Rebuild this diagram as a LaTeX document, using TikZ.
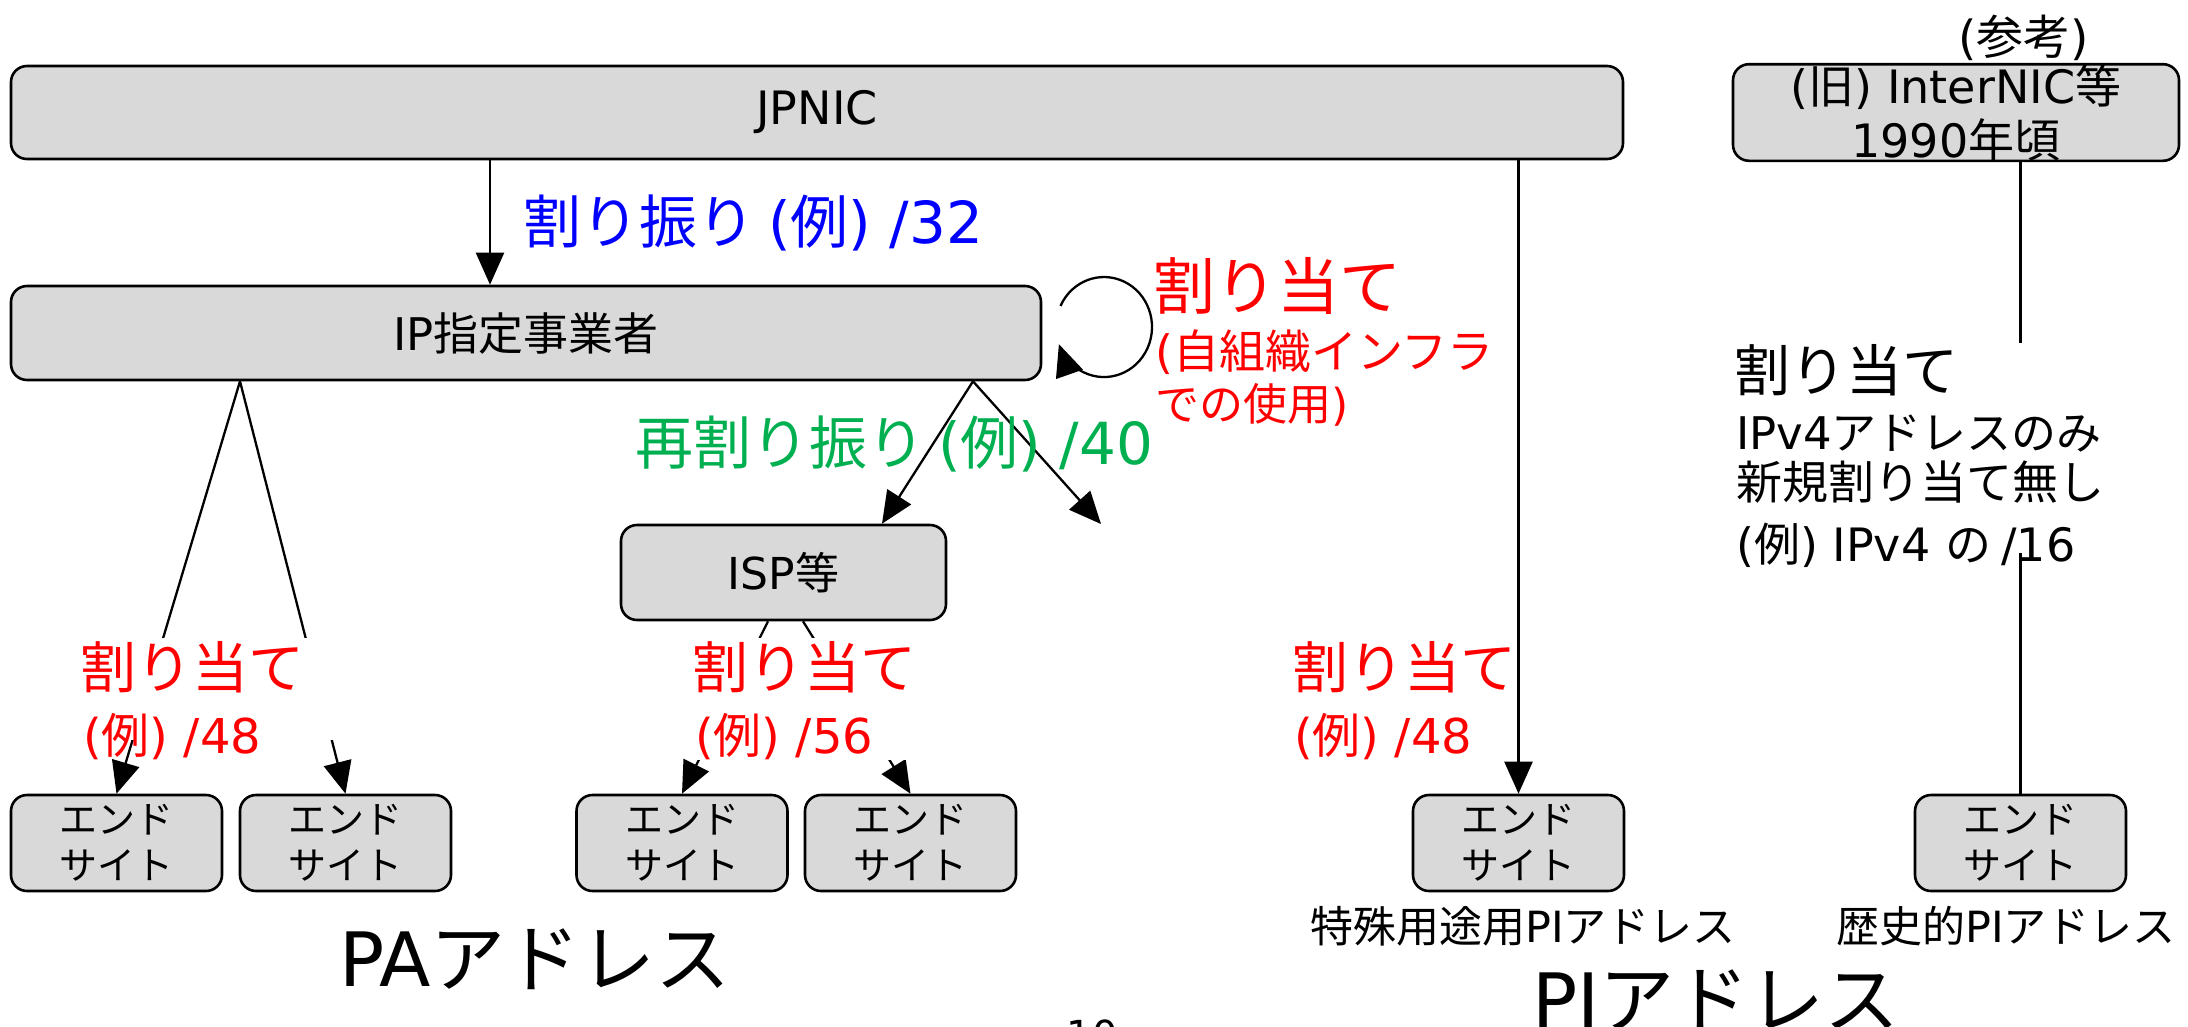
\documentclass[tikz,border=0pt]{standalone}
\usepackage{fontspec}
\setmainfont{Noto Sans CJK JP}
\newfontfamily\latinfont{DejaVu Sans}
\usetikzlibrary{arrows.meta}
\XeTeXinterchartokenstate=1
\newXeTeXintercharclass\cjkclass
\newcount\cjkc
\def\setcjkrange#1#2{\cjkc=#1\relax\loop\XeTeXcharclass\cjkc=\cjkclass\relax\advance\cjkc by 1\relax\ifnum\cjkc<#2\relax\repeat}
\setcjkrange{"3000}{"3100}
\setcjkrange{"4E00}{"A000}
\setcjkrange{"FF00}{"FFF0}
\XeTeXinterchartoks 0 \cjkclass = {\normalfont}
\XeTeXinterchartoks 4095 \cjkclass = {\normalfont}
\XeTeXinterchartoks \cjkclass 0 = {\latinfont}
\XeTeXinterchartoks 4095 0 = {\latinfont}
\definecolor{boxgray}{HTML}{D9D9D9}
\definecolor{jred}{HTML}{FF0000}
\definecolor{jblue}{HTML}{0000FF}
\definecolor{jgreen}{HTML}{00B050}
\tikzset{
  box/.style={draw=black, line width=2.6pt, fill=boxgray, rounded corners=16pt, inner sep=0pt, align=center},
  es/.style={box, minimum width=211pt, minimum height=96pt, font=\fontsize{38}{46}\selectfont},
  conn/.style={line width=2.3pt, draw=black},
  arr/.style={conn, -{Triangle[length=32pt,width=28pt]}},
  txt/.style={inner sep=0pt, anchor=base west},
  fs/.style={font=\fontsize{#1}{#1}\selectfont},
  maskbox/.style={txt, fill=white, align=left},
}
\begin{document}
\begin{tikzpicture}[x=1pt,y=-1pt]
\useasboundingbox (0,0) rectangle (2188,1026);
% boxes
\node[box, minimum width=1612pt, minimum height=93pt, fs=46] (jp) at (817,112.5) {JPNIC};
\node[box, minimum width=1030pt, minimum height=94pt, fs=45] (ip) at (526,333) {IP指定事業者};
\node[box, minimum width=325pt, minimum height=95pt, fs=44] (isp) at (783.5,572.5) {ISP等};
\node[box, minimum width=446pt, minimum height=93pt, font=\fontsize{46}{54}\selectfont] (inic) at (1956,112.5) {(旧) InterNIC等\\1990年頃};
\node[es] (es1) at (116.5,843) {エンド\\サイト};
\node[es] (es2) at (345.5,843) {エンド\\サイト};
\node[es] (es3) at (682,843) {エンド\\サイト};
\node[es] (es4) at (910.5,843) {エンド\\サイト};
\node[es] (es5) at (1518.5,843) {エンド\\サイト};
\node[es] (es6) at (2020.5,843) {エンド\\サイト};
% helper coordinates
\coordinate (hA) at (490,0);
\coordinate (hB) at (240,0);
\coordinate (hC) at (973,0);
\coordinate (hD) at (882,0);
\coordinate (hE) at (768,0);
\coordinate (hF) at (803,0);
\coordinate (freeend) at (1101,524);
\coordinate (loopstart) at (1060.5,305.9);
% connectors
\draw[arr] (jp.south -| hA) -- (ip.north -| hA);
\draw[arr] (jp.south -| es5.north) -- (es5.north);
\draw[arr] (ip.south -| hB) -- (es1.north);
\draw[arr] (ip.south -| hB) -- (es2.north);
\draw[arr] (ip.south -| hC) -- (isp.north -| hD);
\draw[arr] (ip.south -| hC) -- (freeend);
\draw[arr] (isp.south -| hE) -- (es3.north);
\draw[arr] (isp.south -| hF) -- (es4.north);
\draw[conn] (inic.south -| es6.north) -- (es6.north);
\draw[arr] (loopstart) arc[start angle=205, end angle=520, x radius=48, y radius=50];
% labels
\node[txt, fs=58, text=jblue] (lblue) at (523,243) {割り振り (例) /32};
\node[txt, fs=58, text=jgreen] (lgreen) at (635,464) {再割り振り (例) /40};
\node[txt, fs=62, text=jred] (lself1) at (1153,309.5) {割り当て};
\node[txt, fs=46, text=jred] (lself2) at (1155,368) {(自組織インフラ};
\node[txt, fs=44, text=jred] (lself3) at (1155,420) {での使用)};
\node[maskbox, text width=255pt, fs=56, text=jred, text height=50pt, text depth=52pt] (l1a) at (80,688) {割り当て};
\node[txt, fs=48, text=jred] (l1b) at (83,753) {(例) /48};
\node[maskbox, text width=226pt, fs=56, text=jred, text height=50pt, text depth=72pt] (l2a) at (692,688) {割り当て};
\node[txt, fs=48, text=jred] (l2b) at (695,753) {(例) /56};
\node[txt, fs=56, text=jred] (l3a) at (1292,688) {割り当て};
\node[txt, fs=48, text=jred] (l3b) at (1294,753) {(例) /48};
\node[txt, fs=47] (ref) at (1958,54) {(参考)};
\node[maskbox, text width=390pt, fs=56, text height=48pt, text depth=162pt] (r1) at (1734,391) {割り当て};
\node[txt, fs=45] (r2) at (1736,449) {IPv4アドレスのみ};
\node[txt, fs=46] (r3) at (1736,499.5) {新規割り当て無し};
\node[txt, fs=46] (r4) at (1736,561.5) {(例) IPv4 の /16};
\node[txt, fs=43] (pisp) at (1310,942) {特殊用途用PIアドレス};
\node[txt, fs=43] (pihist) at (1836,942) {歴史的PIアドレス};
\node[txt, fs=75] (pa) at (339,986.5) {PAアドレス};
\node[txt, fs=75] (pi) at (1532,1027) {PIアドレス};
\node[anchor=base, inner sep=0pt, fs=40] (pg) at (1092,1049) {10};
\end{tikzpicture}
\end{document}
